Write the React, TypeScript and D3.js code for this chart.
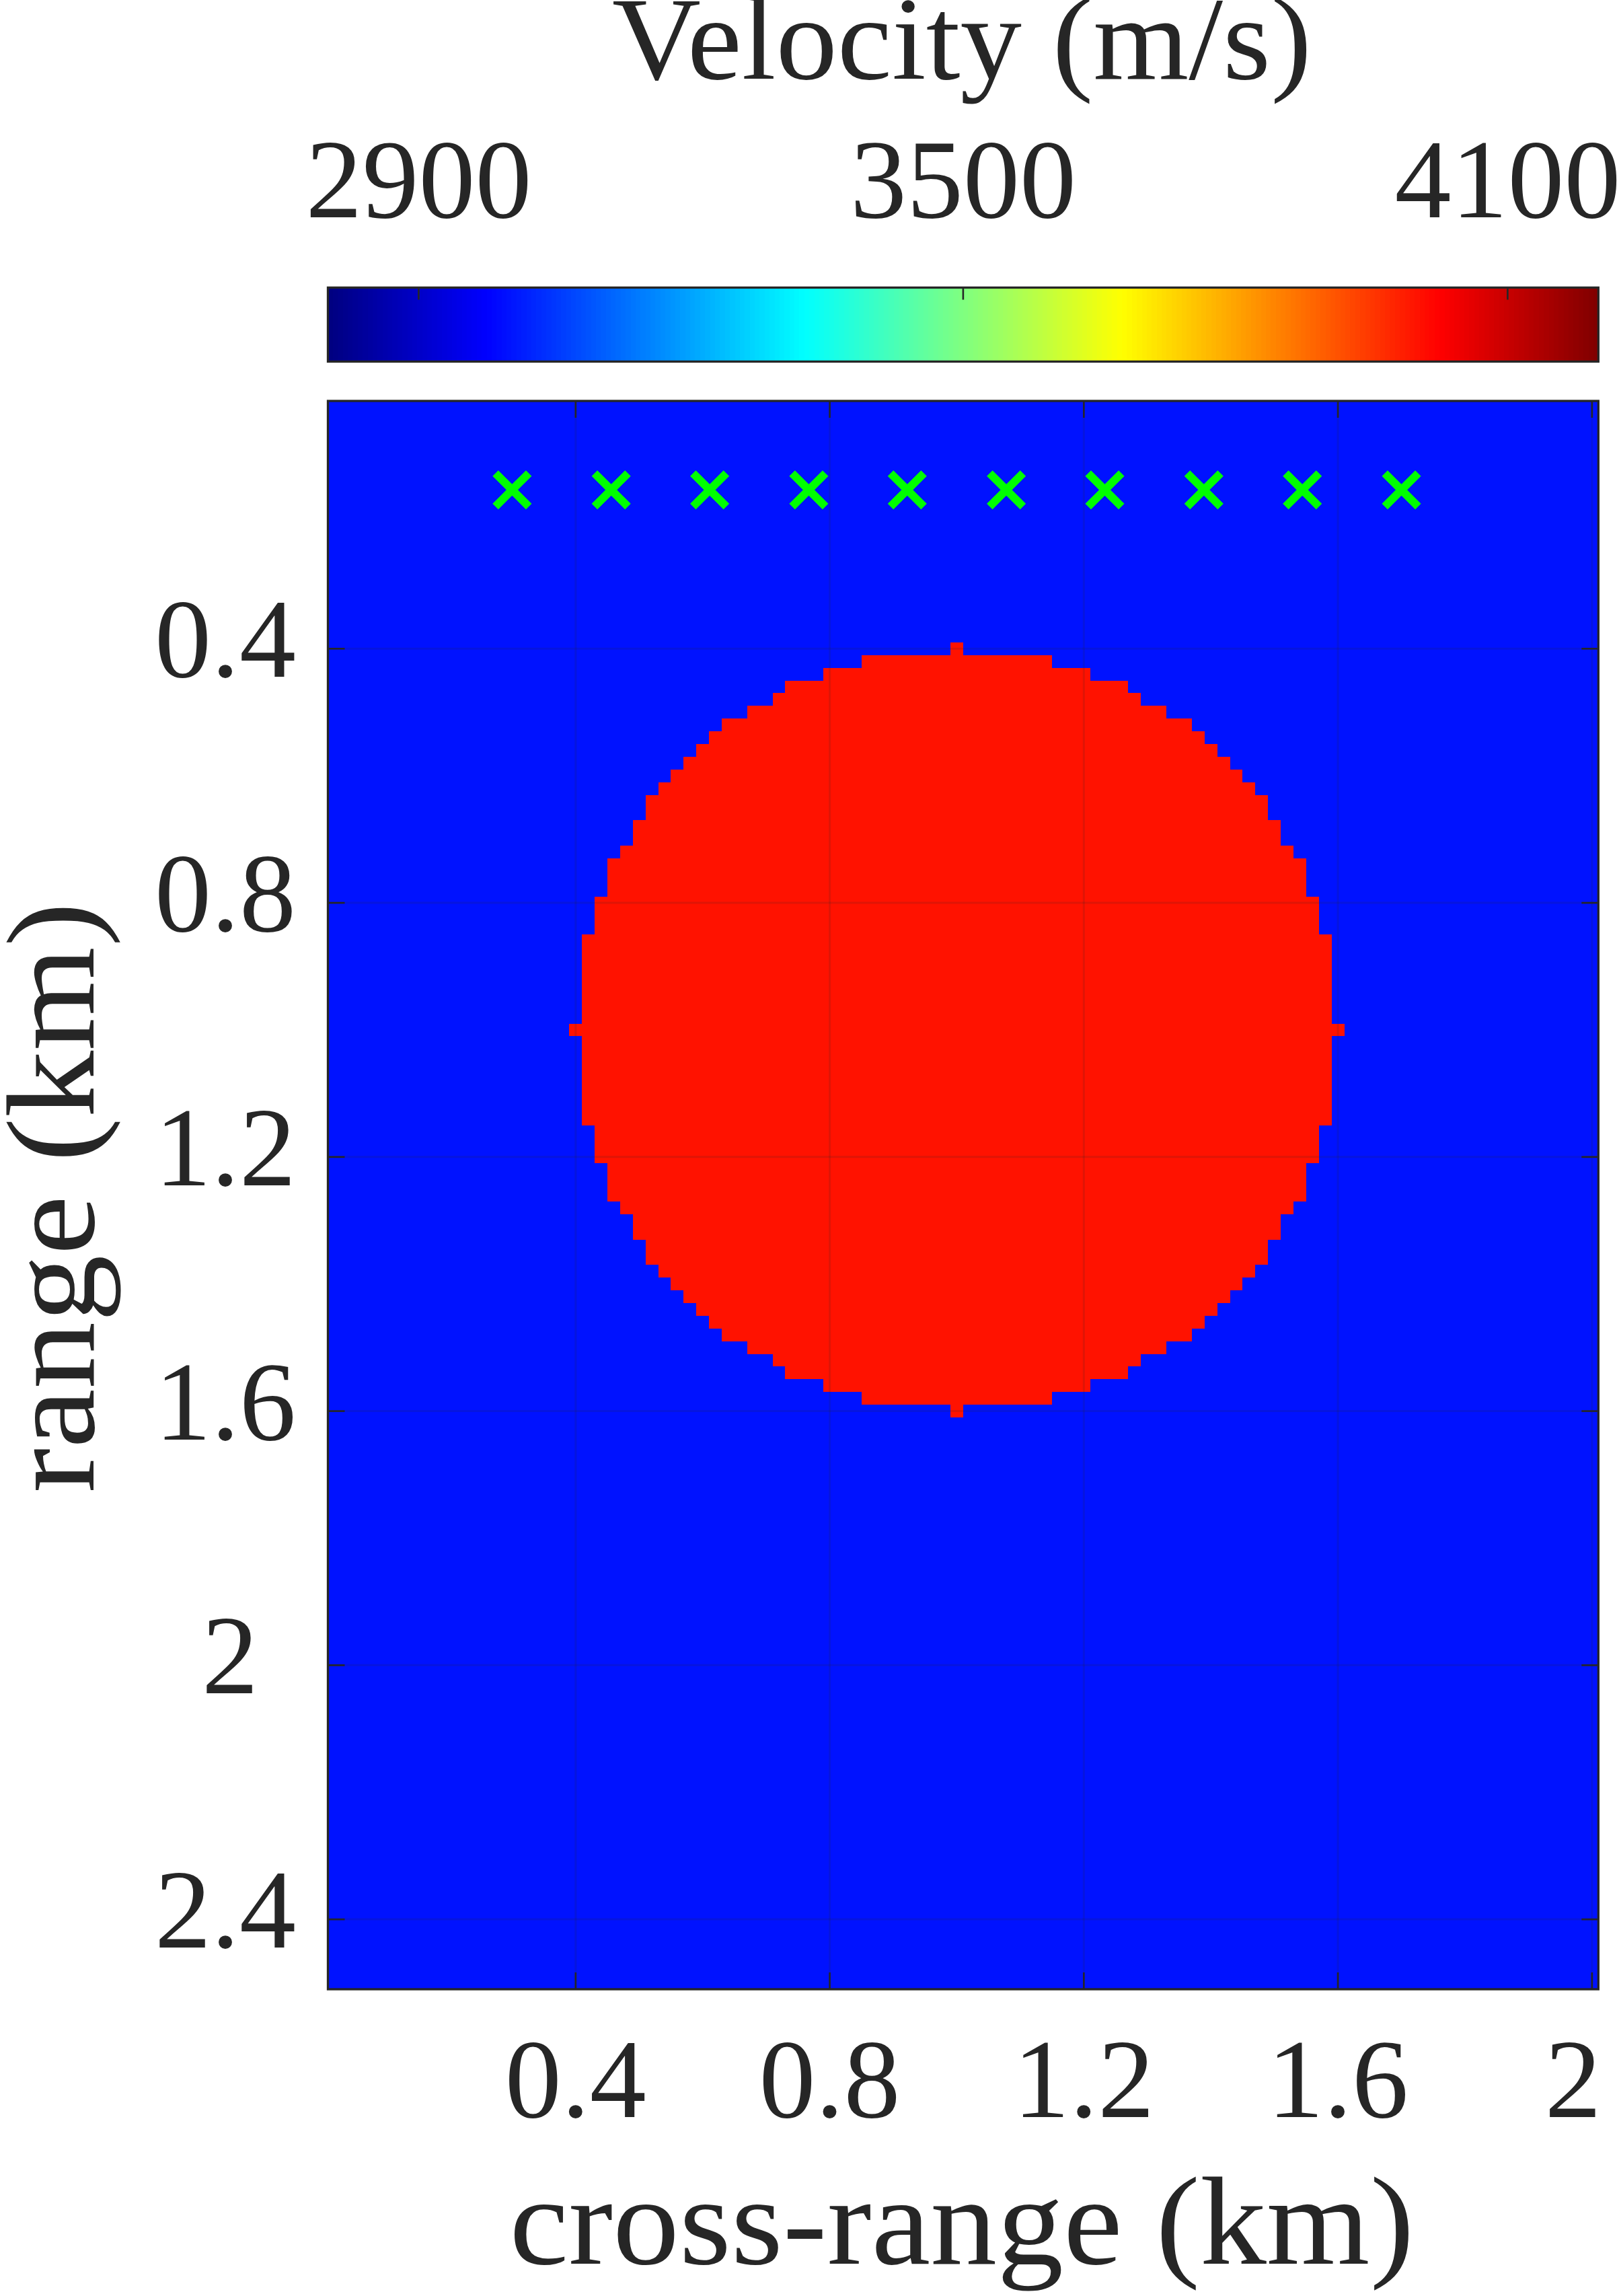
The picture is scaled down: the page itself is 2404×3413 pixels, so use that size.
import React from "react";
import * as d3 from "d3";

// ---- data ----
const gridStepKm = 0.02;
const crossRangeCellCount = 100; // x = 0.02 .. 2.00 km
const rangeCellCount = 125; // z = 0.02 .. 2.50 km
const backgroundVelocity = 3000; // m/s
const anomalyVelocity = 4000; // m/s
const anomalyCenterCell = [50, 50]; // (x index, z index) -> (1.0 km, 1.0 km)
// half-width (in cells) of the circular anomaly for each |row offset| from its centre row
const anomalyHalfWidthCells = [
  30, 29, 29, 29, 29, 29, 29, 29, 28, 28, 28, 27, 27, 27, 26, 25, 25, 24, 24, 23,
  22, 21, 20, 19, 18, 16, 14, 13, 10, 7, 0,
];
const receiverCrossRange = [0.3, 0.456, 0.611, 0.767, 0.922, 1.078, 1.233, 1.389, 1.544, 1.7];
const receiverRange = 0.15;
const xTicks = [0.4, 0.8, 1.2, 1.6, 2];
const xTickLabels = ["0.4", "0.8", "1.2", "1.6", "2\u2004"];
const yTicks = [0.4, 0.8, 1.2, 1.6, 2, 2.4];
const yTickLabels = ["0.4", "0.8", "1.2", "1.6", "2\u2004", "2.4"];
const colorbarTicks = [2900, 3500, 4100];
const colorbarTickLabels = ["2900", "3500", "4100"];
const colorLimits = [2800, 4200];
const colormapLevels = 256;

// ---- style ----
const W = 2404;
const H = 3413;
const ink = "#262626";
const fontFamily = "'Liberation Serif', 'Times New Roman', serif";

function jet(t: number): string {
  const c = (v: number) => Math.max(0, Math.min(1, v));
  const r = c(1.5 - Math.abs(4 * t - 3));
  const g = c(1.5 - Math.abs(4 * t - 2));
  const b = c(1.5 - Math.abs(4 * t - 1));
  return d3.rgb(r * 255, g * 255, b * 255).formatHex();
}

type Cell = { x: number; z: number; v: number };

function buildCells(): Cell[] {
  const cells: Cell[] = [];
  for (let j = 1; j <= rangeCellCount; j++) {
    const dj = Math.abs(j - anomalyCenterCell[1]);
    const hw = dj < anomalyHalfWidthCells.length ? anomalyHalfWidthCells[dj] : -1;
    for (let i = 1; i <= crossRangeCellCount; i++) {
      const inside = hw >= 0 && Math.abs(i - anomalyCenterCell[0]) <= hw;
      cells.push({ x: i * gridStepKm, z: j * gridStepKm, v: inside ? anomalyVelocity : backgroundVelocity });
    }
  }
  return cells;
}

export default function App() {
  const x = d3
    .scaleLinear()
    .domain([gridStepKm / 2, crossRangeCellCount * gridStepKm + gridStepKm / 2])
    .range([487.5, 2376.3]);
  const y = d3
    .scaleLinear()
    .domain([gridStepKm / 2, rangeCellCount * gridStepKm + gridStepKm / 2])
    .range([596, 2957]);

  const norm = d3.scaleLinear().domain(colorLimits).range([0, 1]).clamp(true);
  const colorOf = (v: number) => {
    const idx = Math.min(colormapLevels - 1, Math.floor(norm(v) * colormapLevels));
    return jet((idx + 0.5) / colormapLevels);
  };

  const cb = d3.scaleLinear().domain(colorLimits).range([487.5, 2376.3]);
  const cbTop = 427.5;
  const cbBottom = 537.5;
  const levels = d3.range(colormapLevels);
  const levelValue = (k: number) => colorLimits[0] + ((colorLimits[1] - colorLimits[0]) * k) / colormapLevels;

  const cells = buildCells();
  const [x0, x1] = x.range();
  const [y0, y1] = y.range();
  const half = gridStepKm / 2;

  const tickLen = 25;
  const tickW = 2.6;
  const markerHalf = 24.8;

  return (
    <svg
      width={W}
      height={H}
      viewBox={`0 0 ${W} ${H}`}
      style={{ position: "absolute", left: 0, top: 0, background: "#ffffff" }}
    >
      <rect x={0} y={0} width={W} height={H} fill="#ffffff" />

      {/* colorbar title */}
      <text
        x={1430}
        y={117}
        textAnchor="middle"
        fontFamily={fontFamily}
        fontSize={176}
        fill={ink}
        textLength={1040}
        lengthAdjust="spacingAndGlyphs"
      >
        Velocity (m/s)
      </text>
      {/* colorbar tick labels */}
      {colorbarTicks.map((t, k) => (
        <text key={t} x={cb(t)} y={323} textAnchor="middle" fontFamily={fontFamily} fontSize={168} fill={ink}>
          {colorbarTickLabels[k]}
        </text>
      ))}
      {/* colorbar */}
      <g shapeRendering="crispEdges">
        {levels.map((k) => (
          <rect
            key={k}
            x={cb(levelValue(k))}
            y={cbTop}
            width={cb(levelValue(k + 1)) - cb(levelValue(k)) + 0.6}
            height={cbBottom - cbTop}
            fill={jet((k + 0.5) / colormapLevels)}
          />
        ))}
      </g>
      {colorbarTicks.map((t) => (
        <line key={t} x1={cb(t)} x2={cb(t)} y1={cbTop} y2={cbTop + 18} stroke={ink} strokeWidth={tickW} />
      ))}
      <rect
        x={cb.range()[0]}
        y={cbTop}
        width={cb.range()[1] - cb.range()[0]}
        height={cbBottom - cbTop}
        fill="none"
        stroke={ink}
        strokeWidth={3.3}
      />

      {/* velocity image */}
      <rect x={x0} y={y0} width={x1 - x0} height={y1 - y0} fill={colorOf(backgroundVelocity)} />
      <g shapeRendering="crispEdges">
        {cells.map((c, k) => (
          <rect
            key={k}
            x={x(c.x - half)}
            y={y(c.z - half)}
            width={x(c.x + half) - x(c.x - half)}
            height={y(c.z + half) - y(c.z - half)}
            fill={colorOf(c.v)}
          />
        ))}
      </g>

      {/* grid */}
      <g stroke={ink} strokeOpacity={0.15} strokeWidth={3}>
        {xTicks.map((t) => (
          <line key={"gx" + t} x1={x(t)} x2={x(t)} y1={y0} y2={y1} />
        ))}
        {yTicks.map((t) => (
          <line key={"gy" + t} x1={x0} x2={x1} y1={y(t)} y2={y(t)} />
        ))}
      </g>

      {/* receivers */}
      <g stroke="#00ff00" strokeWidth={12} strokeLinecap="butt">
        {receiverCrossRange.map((rx, k) => {
          const cx = x(rx);
          const cy = y(receiverRange);
          return (
            <g key={k}>
              <line x1={cx - markerHalf} y1={cy - markerHalf} x2={cx + markerHalf} y2={cy + markerHalf} />
              <line x1={cx - markerHalf} y1={cy + markerHalf} x2={cx + markerHalf} y2={cy - markerHalf} />
            </g>
          );
        })}
      </g>

      {/* ticks (inside, all four sides) */}
      <g stroke={ink} strokeWidth={tickW}>
        {xTicks.map((t) => (
          <g key={"tx" + t}>
            <line x1={x(t)} x2={x(t)} y1={y1} y2={y1 - tickLen} />
            <line x1={x(t)} x2={x(t)} y1={y0} y2={y0 + tickLen} />
          </g>
        ))}
        {yTicks.map((t) => (
          <g key={"ty" + t}>
            <line x1={x0} x2={x0 + tickLen} y1={y(t)} y2={y(t)} />
            <line x1={x1} x2={x1 - tickLen} y1={y(t)} y2={y(t)} />
          </g>
        ))}
      </g>

      {/* axes box */}
      <rect x={x0} y={y0} width={x1 - x0} height={y1 - y0} fill="none" stroke={ink} strokeWidth={3.3} />

      {/* tick labels */}
      {xTicks.map((t, k) => (
        <text
          key={"lx" + t}
          x={x(t)}
          y={3147}
          textAnchor="middle"
          fontFamily={fontFamily}
          fontSize={168}
          fill={ink}
          style={{ whiteSpace: "pre" }}
        >
          {xTickLabels[k]}
        </text>
      ))}
      {yTicks.map((t, k) => (
        <text
          key={"ly" + t}
          x={440}
          y={y(t) + 42}
          textAnchor="end"
          fontFamily={fontFamily}
          fontSize={168}
          fill={ink}
          style={{ whiteSpace: "pre" }}
        >
          {yTickLabels[k]}
        </text>
      ))}

      {/* axis labels */}
      <text
        x={1430}
        y={3365}
        textAnchor="middle"
        fontFamily={fontFamily}
        fontSize={186}
        fill={ink}
        textLength={1345}
        lengthAdjust="spacingAndGlyphs"
      >
        cross-range (km)
      </text>
      <text
        transform="translate(139,1780) rotate(-90)"
        textAnchor="middle"
        fontFamily={fontFamily}
        fontSize={186}
        fill={ink}
        textLength={878}
        lengthAdjust="spacingAndGlyphs"
      >
        range (km)
      </text>
    </svg>
  );
}
